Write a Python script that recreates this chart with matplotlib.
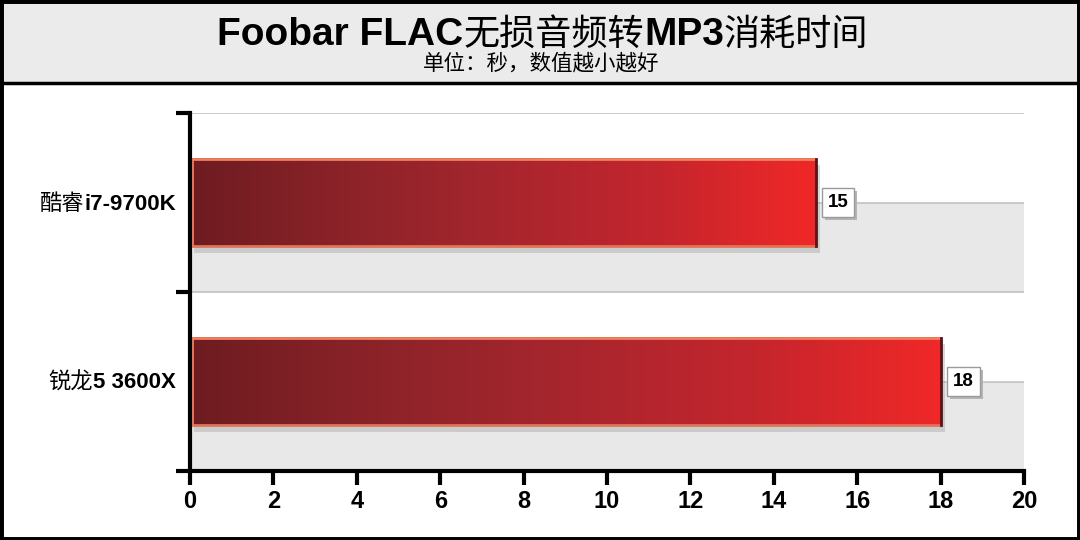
import matplotlib
matplotlib.use("Agg")
import matplotlib.pyplot as plt
import numpy as np
from matplotlib.colors import LinearSegmentedColormap
from matplotlib.patches import Rectangle
from matplotlib.transforms import IdentityTransform

# chart data
title_runs = [("Foobar FLAC", "latin"), ("无损音频转", "cjk"), ("MP3", "latin"), ("消耗时间", "cjk")]
subtitle = "单位：秒，数值越小越好"
cpu_cn = ["酷睿", "锐龙"]
cpu_model = ["i7-9700K", "5 3600X"]
seconds = [15, 18]
x_ticks = np.arange(0, 21, 2)

W, H = 1080, 540
fig = plt.figure(figsize=(W / 100, H / 100), dpi=100)
fig.patch.set_facecolor("white")

# header box + outer frame
fig.patches.append(Rectangle((0, 1 - 83 / H), 1, 83 / H, transform=fig.transFigure,
                             facecolor="#ebebeb", edgecolor="black", lw=2.5, zorder=0))
fig.patches.append(Rectangle((0, 0), 1, 1, transform=fig.transFigure,
                             facecolor="none", edgecolor="black", lw=5, zorder=10))

ax = fig.add_axes([190 / W, 1 - 471 / H, (1024 - 190) / W, (471 - 113) / H])
ax.set_facecolor("white")

n = len(seconds)
# alternating bands and gridlines
for i in range(n):
    ax.axhspan(i, i + 0.5, color="#e8e8e8", lw=0, zorder=0)
for g in np.arange(-0.5, n - 0.5, 0.5):
    ax.axhline(g, color="#bdbdbd", lw=1.1, zorder=1)

cmap = LinearSegmentedColormap.from_list(
    "bar", ["#6e1c21", "#8c2329", "#a8262e", "#c4252d", "#f02828"])
grad = np.linspace(0, 1, 256).reshape(1, -1)
bh = 0.49
value_texts = []
for i, v in enumerate(seconds):
    top, bot = i - bh / 2, i + bh / 2
    # shadow
    ax.add_patch(Rectangle((0.1, top + 0.035), v, bh, facecolor="#a0a0a0", alpha=0.4,
                           lw=0, zorder=2))
    ax.imshow(grad, extent=[0.05, v, bot, top], cmap=cmap, aspect="auto",
              interpolation="bicubic", zorder=3)
    ax.plot([0.05, v], [top, top], color="#ee8060", lw=2, zorder=4, solid_capstyle="butt")
    ax.plot([0.05, v], [bot, bot], color="#e07458", lw=2, zorder=4, solid_capstyle="butt")
    ax.plot([0.05, 0.05], [top, bot], color="#ee8060", lw=2, zorder=4)
    ax.plot([v, v], [top, bot], color="#5c1216", lw=2, zorder=4)
    t = ax.text(v + 0.3, i, f"{v}", ha="left", va="center", fontsize=13.5, fontweight="bold",
                family="Liberation Sans", zorder=6,
                bbox=dict(boxstyle="square,pad=0.3", facecolor="white",
                          edgecolor="#9a9a9a", lw=1))
    value_texts.append(t)

ax.set_xlim(0, 20)
ax.set_ylim(n - 0.5, -0.5)
ax.set_xticks(x_ticks)
ax.set_xticklabels([str(t) for t in x_ticks], fontsize=17, fontweight="bold",
                   family="Liberation Sans")
ax.set_yticks(np.arange(-0.5, n, 1.0))
ax.set_yticklabels([])
ax.tick_params(axis="x", direction="out", length=10, width=3, pad=4)
ax.tick_params(axis="y", direction="out", length=10, width=3)
for s in ("top", "right"):
    ax.spines[s].set_visible(False)
for s in ("left", "bottom"):
    ax.spines[s].set_linewidth(3)
    ax.spines[s].set_zorder(7)

fig.canvas.draw()
renderer = fig.canvas.get_renderer()

# drop shadow behind the value boxes
for t in value_texts:
    bb = t.get_bbox_patch().get_window_extent(renderer)
    ax.add_artist(Rectangle((bb.x0 + 3, bb.y0 - 3), bb.width, bb.height,
                            transform=IdentityTransform(), facecolor="#b4b4b4",
                            edgecolor="none", zorder=5))


def place_runs(runs, x, y, align="center"):
    texts = []
    for s, props in runs:
        t = fig.text(0, y, s, transform=IdentityTransform(), ha="left", va="baseline", **props)
        texts.append(t)
    widths = [t.get_window_extent(renderer).width for t in texts]
    total = sum(widths)
    x0 = x - total / 2 if align == "center" else x - total
    for t, w in zip(texts, widths):
        t.set_x(x0)
        x0 += w


latin_title = dict(family="Liberation Sans", fontweight="bold", fontsize=28)
cjk_title = dict(family="Noto Sans CJK SC", fontweight="normal", fontsize=26)
place_runs([(s, latin_title if k == "latin" else cjk_title) for s, k in title_runs],
           543, H - 45)
fig.text(541, H - 69, subtitle, transform=IdentityTransform(), ha="center", va="baseline",
         family="Noto Sans CJK SC", fontsize=15.5)

for i in range(n):
    ypix = ax.transData.transform((0, i))[1] - 7
    place_runs([(cpu_cn[i], dict(family="Noto Sans CJK SC", fontsize=16)),
                (cpu_model[i], dict(family="Liberation Sans", fontweight="bold", fontsize=16))],
               176, ypix, align="right")

fig.savefig("out.png", dpi=100)
